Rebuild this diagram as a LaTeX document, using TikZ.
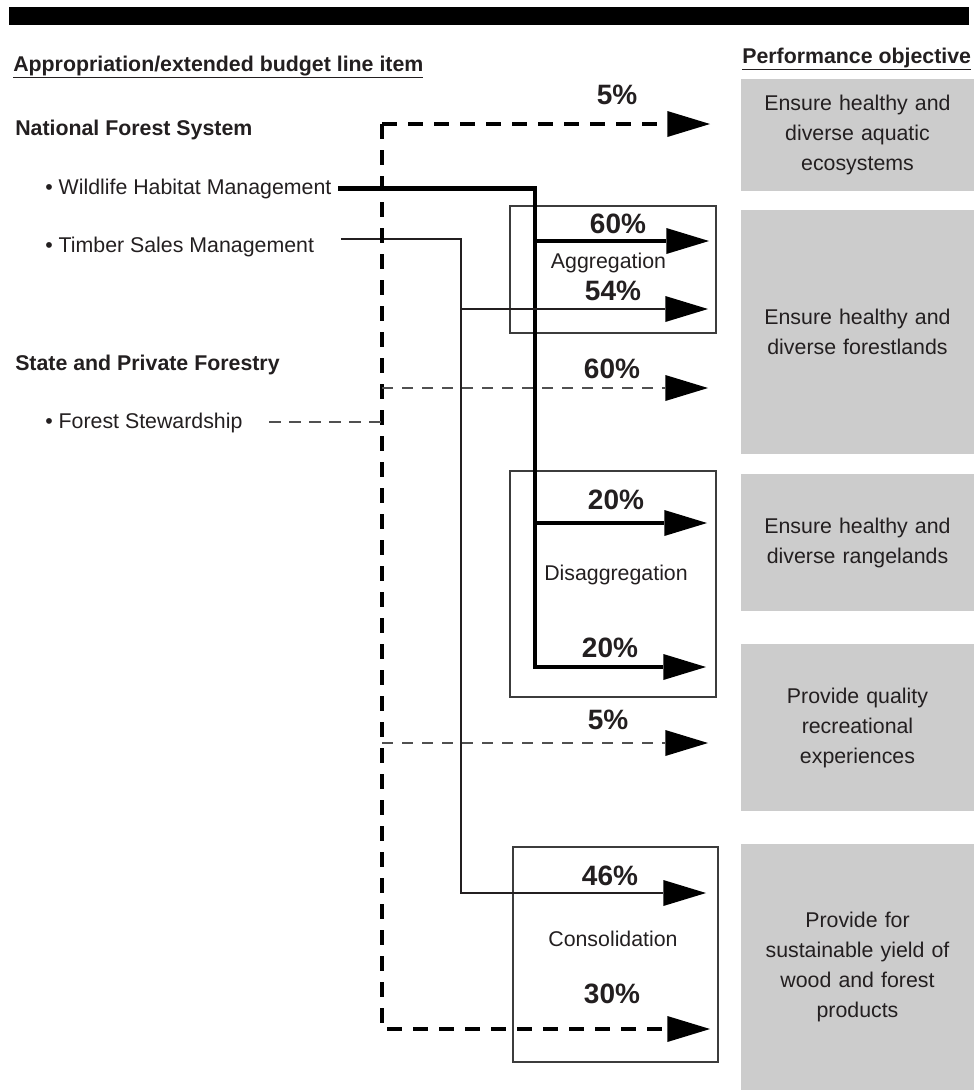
\documentclass[tikz,border=0pt]{standalone}
\usepackage{fontspec}
\setmainfont{Liberation Sans}
\usepackage{xcolor}
\usepackage{tikz}
\usetikzlibrary{arrows.meta,positioning}
\definecolor{BarBlack}{RGB}{0,0,0}
\definecolor{ObjGray}{RGB}{204,204,204}
\definecolor{InkDark}{RGB}{35,31,32}
\definecolor{DashGray}{RGB}{80,80,80}
\definecolor{FrameGray}{RGB}{60,60,60}
\tikzstyle{heading} = [anchor=base west, inner sep=0pt, font=\fontsize{16}{19}\selectfont\bfseries, text=InkDark]
\tikzstyle{item} = [anchor=base west, inner sep=0pt, font=\fontsize{16}{19}\selectfont, text=InkDark]
\tikzstyle{share} = [anchor=base, inner sep=0pt, font=\fontsize{21}{24}\selectfont\bfseries, text=InkDark]
\tikzstyle{tag} = [anchor=base, inner sep=0pt, font=\fontsize{16}{19}\selectfont, text=InkDark]
\tikzstyle{method} = [rectangle, draw=FrameGray, line width=0.9pt, minimum width=154.5pt]
\tikzstyle{objective} = [rectangle, fill=ObjGray, inner sep=0pt, minimum width=174.75pt, text width=170pt, align=center, font=\fontsize{16}{22.5}\selectfont, text=InkDark]
\tikzstyle{bigtip} = [-{Triangle[length=32pt,width=19.5pt,line width=0pt,color=black]}]
\tikzstyle{heavy} = [line width=3.5pt, black, bigtip]
\tikzstyle{lightline} = [line width=1.6pt, InkDark, bigtip]
\tikzstyle{dashbold} = [line width=2.4pt, black, dash pattern=on 11pt off 8.5pt]
\tikzstyle{dashlite} = [line width=1.5pt, DashGray, dash pattern=on 8.5pt off 6.5pt]

\begin{document}
\begin{tikzpicture}[x=0.75pt, y=-0.75pt]
\useasboundingbox (0,0) rectangle (974,1090);

% Bandeau
\fill[BarBlack] (9,7) rectangle (969,25);

% Titres
\node (budgetHead) [heading] at (13,71) {\underline{Appropriation/extended budget line item}};
\node (goalHead) [heading] at (742,63) {\underline{Performance objective}};

% Lignes budgetaires
\node (nfs) [heading] at (15,135) {National Forest System};
\node (wild) [item] at (45,194) {\textbullet\ Wildlife Habitat Management};
\node (timber) [item] at (45,252) {\textbullet\ Timber Sales Management};
\node (spf) [heading] at (15,370) {State and Private Forestry};
\node (forest) [item] at (45,428) {\textbullet\ Forest Stewardship};

% Objectifs
\node (objAqua) [objective, minimum height=84pt] at (857.5,135) {Ensure healthy and\\diverse aquatic\\ecosystems};
\node (objForest) [objective, minimum height=183pt] at (857.5,332) {Ensure healthy and\\diverse forestlands};
\node (objRange) [objective, minimum height=102.75pt] at (857.5,542.5) {Ensure healthy and\\diverse rangelands};
\node (objRec) [objective, minimum height=125.25pt] at (857.5,727.5) {Provide quality\\recreational\\experiences};
\node (objWood) [objective, minimum height=184.5pt] at (857.5,967) {Provide for\\sustainable yield of\\wood and forest\\products};

% Methodes
\node (agg) [method, minimum height=95.25pt] at (613,269.5) {};
\node (disagg) [method, minimum height=169.5pt] at (613,584) {};
\node (consol) [method, minimum width=153.75pt, minimum height=161.25pt] at (615.5,954.5) {};

% Points d'arrivee
\coordinate (aquaTip) at (710,124);
\coordinate (aggTipA) at (709,241);
\coordinate (aggTipB) at (708,309);
\coordinate (forestTip) at (708,388);
\coordinate (disTipA) at (707,523);
\coordinate (disTipB) at (706,667);
\coordinate (recTip) at (708,743);
\coordinate (conTipA) at (706,893);
\coordinate (woodTip) at (710,1029);
\coordinate (wildDrop) at (535,667);
\coordinate (timberDrop) at (461,893);
\coordinate (dashTop) at (382,124);
\coordinate (dashBot) at (382,1029);

% Fleches
\draw [heavy] ([xshift=5pt]wild.east) -| (wildDrop) -- (disTipB);
\draw [heavy] (wildDrop |- aggTipA) -- (aggTipA);
\draw [heavy] (wildDrop |- disTipA) -- (disTipA);
\draw [lightline] ([xshift=20pt,yshift=-2pt]timber.north east) -| (timberDrop) -- (conTipA);
\draw [lightline] (timberDrop |- aggTipB) -- (aggTipB);
\draw [dashbold, bigtip] (dashTop) -- (aquaTip);
\draw [dashbold, bigtip] (dashTop) -- (dashBot) -- (woodTip);
\draw [dashlite] ([xshift=20pt]forest.east) -- (forest.east -| dashTop);
\draw [dashlite, bigtip] (dashTop |- forestTip) -- (forestTip);
\draw [dashlite, bigtip] (dashTop |- recTip) -- (recTip);

% Parts
\node (pAqua) [share] at (617,104) {5\%};
\node (pAggA) [share] at (618,233) {60\%};
\node (pAggB) [share] at (613,300) {54\%};
\node (pForest) [share] at (612,378) {60\%};
\node (pDisA) [share] at (616,509) {20\%};
\node (pDisB) [share] at (610,657) {20\%};
\node (pRec) [share] at (608,729) {5\%};
\node (pConA) [share] at (610,885) {46\%};
\node (pWood) [share] at (612,1003) {30\%};

% Etiquettes
\node (aggLabel) [tag] at (608.5,268) {Aggregation};
\node (disLabel) [tag] at (616,580) {Disaggregation};
\node (conLabel) [tag] at (613,946) {Consolidation};

\end{tikzpicture}
\end{document}
